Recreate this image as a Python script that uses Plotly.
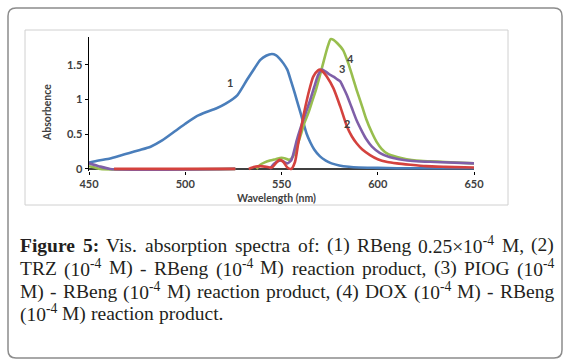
import plotly.graph_objects as go

# ---------------- data ----------------
wl_1 = [450, 455, 461, 466, 471, 476, 482, 488, 495, 500, 506, 511, 516, 521, 527, 532, 536, 539, 542, 545,
        547, 549, 551, 553, 555, 557, 559, 561, 563, 565, 567, 570, 573, 576, 580, 585, 590, 600, 610, 620,
        630, 640, 650]
abs_1 = [0.09, 0.12, 0.15, 0.19, 0.23, 0.27, 0.32, 0.41, 0.55, 0.65, 0.76, 0.82, 0.87, 0.94, 1.06, 1.28, 1.45,
         1.57, 1.63, 1.655, 1.64, 1.59, 1.52, 1.43, 1.26, 1.08, 0.89, 0.70, 0.51, 0.38, 0.28, 0.18, 0.12, 0.08,
         0.05, 0.03, 0.02, 0.015, 0.01, 0.01, 0.01, 0.01, 0.01]

wl_4 = [450, 453, 456, 526, 530, 537, 539, 541, 544, 547, 550, 552, 554, 556, 558, 560, 562, 564, 566, 568,
        570, 572, 574, 575.5, 577, 579, 582, 584.7, 587, 589, 592, 594, 597, 599.4, 602, 605, 610, 615, 620,
        627, 635, 650]
abs_4 = [0.04, 0.02, 0.0, 0.0, None, 0.0, 0.06, 0.09, 0.12, 0.14, 0.16, 0.15, 0.13, 0.18, 0.32, 0.49, 0.67,
         0.81, 0.98, 1.15, 1.35, 1.56, 1.76, 1.87, 1.86, 1.81, 1.71, 1.52, 1.32, 1.14, 0.89, 0.72, 0.52, 0.39,
         0.29, 0.22, 0.17, 0.14, 0.12, 0.11, 0.10, 0.08]

wl_3 = [450, 455, 461, 526, 535, 544, 546, 548, 550, 552, 553, 555, 556, 558, 561, 563, 565, 567, 569, 571,
        573, 575, 577, 579, 580.5, 582, 584, 586.5, 589, 592, 594, 597, 601, 606, 611, 620, 630, 650]
abs_3 = [0.08, 0.04, 0.0, 0.0, None, 0.0, 0.07, 0.11, 0.12, 0.09, 0.08, 0.12, 0.20, 0.42, 0.68, 0.84, 1.0,
         1.18, 1.35, 1.43, 1.40, 1.36, 1.33, 1.29, 1.26, 1.18, 1.06, 0.88, 0.70, 0.53, 0.43, 0.32, 0.23, 0.17,
         0.14, 0.11, 0.10, 0.08]

wl_2 = [463, 526, 529, 533, 536, 539, 542, 545, 547, 549, 551, 553, 555, 557, 558.7, 560, 561.3, 563, 564,
        566.5, 569, 570, 571.5, 573.5, 577, 580.5, 584, 586.5, 589, 592, 596, 600, 605, 610, 617, 625, 635, 650]
abs_2 = [0.0, 0.0, None, 0.0, 0.03, 0.04, 0.03, 0.02, 0.08, 0.13, 0.10, 0.02, 0.0, 0.10, 0.37, 0.55, 0.75,
         0.97, 1.09, 1.33, 1.42, 1.43, 1.40, 1.33, 1.16, 0.90, 0.61, 0.47, 0.37, 0.28, 0.20, 0.14, 0.10, 0.08,
         0.06, 0.04, 0.03, 0.02]

series_names = ["1", "2", "3", "4"]
label_wl = [523.2, 583.8, 581.4, 585.6]
label_abs = [1.24, 0.66, 1.45, 1.59]

x_ticks = [450, 500, 550, 600, 650]
y_ticks = [0, 0.5, 1, 1.5]
y_tick_text = ["0", "0.5", "1", "1.5"]

# caption: each printed line as a list of words; words are (text, superscript, bold)
caption_line1 = [("Figure", "", True), ("5:", "", True), ("Vis.", "", False), ("absorption", "", False),
                 ("spectra", "", False), ("of:", "", False), ("(1)", "", False), ("RBeng", "", False),
                 ("0.25×10", "-4", False), ("M,", "", False), ("(2)", "", False)]
caption_line2 = [("TRZ", "", False), ("(10", "-4", False), ("M)", "", False), ("-", "", False),
                 ("RBeng", "", False), ("(10", "-4", False), ("M)", "", False), ("reaction", "", False),
                 ("product,", "", False), ("(3)", "", False), ("PIOG", "", False), ("(10", "-4", False)]
caption_line3 = [("M)", "", False), ("-", "", False), ("RBeng", "", False), ("(10", "-4", False),
                 ("M)", "", False), ("reaction", "", False), ("product,", "", False), ("(4)", "", False),
                 ("DOX", "", False), ("(10", "-4", False), ("M)", "", False), ("-", "", False),
                 ("RBeng", "", False)]
caption_line4 = [("(10", "-4", False), ("M)", "", False), ("reaction", "", False), ("product.", "", False)]

# ---------------- layout helpers ----------------
W, H = 572, 364
L, R, T, B = 89, 474, 37, 171


def px(x):
    return (x - L) / (R - L)


def py(y):
    return (B - y) / (B - T)


# Times (Liberation Serif metric compatible) advance widths, per 1000 em
TW = {" ": 250, "(": 333, ")": 333, ".": 250, ",": 250, ":": 278, "-": 333, "×": 564}
TW.update({d: 500 for d in "0123456789"})
TW.update(dict(zip("ABCDEFGHIJKLMNOPQRSTUVWXYZ",
                   [722, 667, 667, 722, 611, 556, 722, 722, 333, 389, 722, 611, 889, 722, 722, 556, 722, 667,
                    556, 611, 722, 722, 944, 722, 722, 611])))
TW.update(dict(zip("abcdefghijklmnopqrstuvwxyz",
                   [444, 500, 444, 500, 444, 333, 500, 500, 278, 278, 500, 278, 778, 500, 500, 500, 500, 333,
                    389, 278, 500, 500, 722, 500, 500, 444])))
TB = dict(TW)
TB.update({"F": 611, "u": 556, "r": 444, ":": 333, "e": 444, "g": 500, "i": 278})


def word_width(w, size):
    text, sp, bold = w
    tab = TB if bold else TW
    return (sum(tab.get(c, 500) for c in text) + 0.7 * sum(TW.get(c, 500) for c in sp)) * size / 1000.0


def word_markup(w):
    text, sp, bold = w
    s = text + (f"<sup>{sp}</sup>" if sp else "")
    return f"<b>{s}</b>" if bold else s


fig = go.Figure()
colors = {"1": "#4A7EBB", "2": "#D4423E", "3": "#7F5FA8", "4": "#98BE4E"}
for name, xs, ys in [("1", wl_1, abs_1), ("4", wl_4, abs_4), ("3", wl_3, abs_3), ("2", wl_2, abs_2)]:
    fig.add_trace(go.Scatter(x=xs, y=ys, mode="lines", name=name, connectgaps=False,
                             line=dict(color=colors[name], width=2.6, shape="spline", smoothing=0.6),
                             showlegend=False, hoverinfo="skip"))

ann = []
for n, xv, yv in zip(series_names, label_wl, label_abs):
    ann.append(dict(x=xv, y=yv, xref="x", yref="y", text=n, showarrow=False, xanchor="center",
                    yanchor="middle", font=dict(family="Lato", size=11, color="#404040", weight="bold")))

ann.append(dict(x=px(276), y=py(198), xref="paper", yref="paper", text="Wavelength (nm)", showarrow=False,
                xanchor="center", yanchor="middle",
                font=dict(family="Lato", size=10.5, color="#404040", weight="bold")))
ann.append(dict(x=px(47), y=py(113), xref="paper", yref="paper", text="Absorbence", showarrow=False,
                xanchor="center", yanchor="middle", textangle=-90,
                font=dict(family="Lato", size=10.5, color="#404040", weight="bold")))

CAP_SIZE = 19.5
cap_font = dict(family="Liberation Serif", size=CAP_SIZE, color="#231F20")
text_left, text_right = 19, 553
line_y = [245, 268.3, 291.7, 313.5]
for words, yc, justify in zip([caption_line1, caption_line2, caption_line3, caption_line4], line_y,
                              [True, True, True, False]):
    widths = [word_width(w, CAP_SIZE) for w in words]
    if justify and len(words) > 1:
        gap = (text_right - text_left - sum(widths)) / (len(words) - 1)
    else:
        gap = TW[" "] * CAP_SIZE / 1000.0
    xcur = text_left
    for w, wd in zip(words, widths):
        ann.append(dict(x=px(xcur - 1), y=py(yc), xref="paper", yref="paper", text=word_markup(w),
                        showarrow=False, xanchor="left", yanchor="middle", font=cap_font))
        xcur += wd + gap

# outer rounded box
x0, x1, y0, y1 = 8, 562, 8, 358
r = 8
rx = r / (R - L)
ry = r / (B - T)
X0, X1, Y0, Y1 = px(x0), px(x1), py(y0), py(y1)
path = (f"M {X0+rx},{Y0} L {X1-rx},{Y0} Q {X1},{Y0} {X1},{Y0-ry} L {X1},{Y1+ry} Q {X1},{Y1} {X1-rx},{Y1} "
        f"L {X0+rx},{Y1} Q {X0},{Y1} {X0},{Y1+ry} L {X0},{Y0-ry} Q {X0},{Y0} {X0+rx},{Y0} Z")
shapes = [
    dict(type="path", path=path, xref="paper", yref="paper", line=dict(color="#8C8C8C", width=1.5),
         layer="below"),
    dict(type="rect", x0=px(25), x1=px(508), y0=py(30), y1=py(205), xref="paper", yref="paper",
         line=dict(color="#D0D0D0", width=1), layer="below"),
    dict(type="line", x0=450, x1=650, y0=0, y1=0, xref="x", yref="y", line=dict(color="black", width=1.5),
         layer="below"),
]

fig.update_layout(
    width=W, height=H,
    margin=dict(l=L, r=W - R, t=T, b=H - B),
    paper_bgcolor="white", plot_bgcolor="white",
    annotations=ann, shapes=shapes,
    xaxis=dict(range=[450, 650], tickvals=x_ticks, showgrid=False, zeroline=False, showline=False,
               ticks="outside", ticklen=3, tickcolor="black",
               tickfont=dict(family="Lato", size=11, color="#404040", weight="bold")),
    yaxis=dict(range=[-0.03, 1.9], tickvals=y_ticks, ticktext=y_tick_text, showgrid=False, zeroline=False,
               showline=True, linecolor="black", linewidth=1.5, ticks="outside", ticklen=3,
               tickcolor="black",
               tickfont=dict(family="Lato", size=11, color="#404040", weight="bold")),
)

fig.write_html("out.html", config={"displayModeBar": False, "staticPlot": True},
               post_script="document.body.style.margin='0';document.body.style.padding='0';")
